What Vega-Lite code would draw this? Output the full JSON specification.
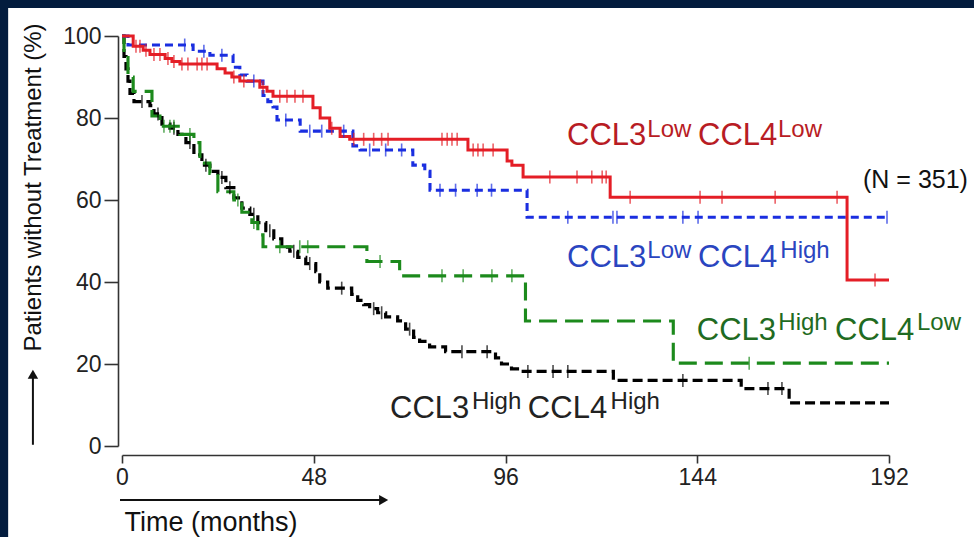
{
  "$schema": "https://vega.github.io/schema/vega-lite/v6.json",
  "width": 767,
  "height": 410,
  "autosize": {"type": "none"},
  "padding": {"left": 122, "top": 36, "right": 85, "bottom": 91},
  "background": "#031c3e",
  "config": {"view": {"stroke": null}, "font": "Liberation Sans"},
  "datasets": {
    "panel": [{"t": -28.5, "t2": 216, "s": -25, "s2": 106.8}],
    "curves": [
      {"g":"HH","t":0,"s":100},{"g":"HH","t":0.5,"s":95},{"g":"HH","t":1,"s":92},{"g":"HH","t":1.5,"s":89},{"g":"HH","t":2,"s":86},{"g":"HH","t":3,"s":84},{"g":"HH","t":7,"s":83},{"g":"HH","t":8,"s":81},{"g":"HH","t":10,"s":78.5},{"g":"HH","t":12,"s":77.5},{"g":"HH","t":14,"s":76},{"g":"HH","t":16,"s":74},{"g":"HH","t":18,"s":71},{"g":"HH","t":20,"s":68.5},{"g":"HH","t":22,"s":67},{"g":"HH","t":24,"s":65.5},{"g":"HH","t":26,"s":63},{"g":"HH","t":28,"s":60.5},{"g":"HH","t":30,"s":58},{"g":"HH","t":32,"s":56.5},{"g":"HH","t":34,"s":54.5},{"g":"HH","t":36,"s":52.5},{"g":"HH","t":38,"s":50.5},{"g":"HH","t":40,"s":48.5},{"g":"HH","t":42,"s":47.5},{"g":"HH","t":44,"s":46},{"g":"HH","t":46,"s":44.5},{"g":"HH","t":48.5,"s":42.5},{"g":"HH","t":49.5,"s":40},{"g":"HH","t":51.5,"s":38.5},{"g":"HH","t":57.5,"s":37},{"g":"HH","t":59,"s":35.5},{"g":"HH","t":60.5,"s":34.5},{"g":"HH","t":62,"s":33.5},{"g":"HH","t":64,"s":32.5},{"g":"HH","t":66,"s":31.5},{"g":"HH","t":69,"s":30.5},{"g":"HH","t":71,"s":28.5},{"g":"HH","t":73,"s":26.5},{"g":"HH","t":74.5,"s":25.5},{"g":"HH","t":77,"s":24.2},{"g":"HH","t":81,"s":23},{"g":"HH","t":93.5,"s":21.5},{"g":"HH","t":95,"s":20},{"g":"HH","t":97.5,"s":18.8},{"g":"HH","t":100,"s":18.2},{"g":"HH","t":123,"s":16},{"g":"HH","t":155,"s":14},{"g":"HH","t":167,"s":10.5},{"g":"HH","t":192,"s":10.5},
      {"g":"HL","t":0,"s":100},{"g":"HL","t":0.5,"s":96},{"g":"HL","t":1.5,"s":90},{"g":"HL","t":2.8,"s":86.5},{"g":"HL","t":7.5,"s":80.5},{"g":"HL","t":9.5,"s":78},{"g":"HL","t":14.5,"s":76},{"g":"HL","t":18,"s":74},{"g":"HL","t":19.5,"s":69},{"g":"HL","t":22,"s":66.5},{"g":"HL","t":24,"s":62},{"g":"HL","t":28,"s":60},{"g":"HL","t":30,"s":57},{"g":"HL","t":32.5,"s":54.5},{"g":"HL","t":34,"s":51.5},{"g":"HL","t":35.3,"s":48.6},{"g":"HL","t":61.3,"s":45},{"g":"HL","t":69.5,"s":41.5},{"g":"HL","t":101,"s":30.5},{"g":"HL","t":138,"s":20.2},{"g":"HL","t":192,"s":20.2},
      {"g":"LH","t":0,"s":100},{"g":"LH","t":1.5,"s":97.8},{"g":"LH","t":17.8,"s":96.3},{"g":"LH","t":22,"s":95.3},{"g":"LH","t":27.8,"s":92.4},{"g":"LH","t":29.5,"s":90.5},{"g":"LH","t":31.3,"s":89},{"g":"LH","t":35.3,"s":85.5},{"g":"LH","t":36.5,"s":84},{"g":"LH","t":37.8,"s":82.7},{"g":"LH","t":38.8,"s":79.5},{"g":"LH","t":44.6,"s":76.8},{"g":"LH","t":57.8,"s":73.2},{"g":"LH","t":59.6,"s":72.2},{"g":"LH","t":72.8,"s":68.5},{"g":"LH","t":75.8,"s":67},{"g":"LH","t":77.1,"s":62.4},{"g":"LH","t":101.4,"s":55.8},{"g":"LH","t":192,"s":55.8},
      {"g":"LL","t":0,"s":100},{"g":"LL","t":2.8,"s":97.5},{"g":"LL","t":5.3,"s":96.5},{"g":"LL","t":7,"s":95.5},{"g":"LL","t":10.8,"s":94.5},{"g":"LL","t":12.5,"s":93.8},{"g":"LL","t":14.5,"s":93.2},{"g":"LL","t":23.8,"s":92},{"g":"LL","t":25.8,"s":91},{"g":"LL","t":27.5,"s":90},{"g":"LL","t":29.5,"s":89},{"g":"LL","t":34.5,"s":87.5},{"g":"LL","t":36.3,"s":86.5},{"g":"LL","t":37.8,"s":85.3},{"g":"LL","t":47.8,"s":82.5},{"g":"LL","t":49.6,"s":80},{"g":"LL","t":52,"s":77.5},{"g":"LL","t":54.6,"s":75.5},{"g":"LL","t":57,"s":74.8},{"g":"LL","t":86.6,"s":72.2},{"g":"LL","t":96.4,"s":69.5},{"g":"LL","t":97.6,"s":68.5},{"g":"LL","t":100.4,"s":65.6},{"g":"LL","t":122.2,"s":60.7},{"g":"LL","t":181.5,"s":40.5},{"g":"LL","t":192,"s":40.5}
    ],
    "censored": [
      {"g":"HH","t":5,"s":84},{"g":"HH","t":9,"s":81},{"g":"HH","t":13,"s":77.5},{"g":"HH","t":17,"s":74},{"g":"HH","t":21,"s":68.5},{"g":"HH","t":25,"s":65.5},{"g":"HH","t":27,"s":63},{"g":"HH","t":33,"s":56.5},{"g":"HH","t":37,"s":52.5},{"g":"HH","t":43,"s":47.5},{"g":"HH","t":47,"s":44.5},{"g":"HH","t":55,"s":38.5},{"g":"HH","t":63,"s":33.5},{"g":"HH","t":65,"s":32.5},{"g":"HH","t":72,"s":28.5},{"g":"HH","t":85.1,"s":23},{"g":"HH","t":91.4,"s":23},{"g":"HH","t":101.6,"s":18.2},{"g":"HH","t":107.9,"s":18.2},{"g":"HH","t":111.6,"s":18.2},{"g":"HH","t":140.4,"s":16},{"g":"HH","t":161.7,"s":14},{"g":"HH","t":165.2,"s":14},
      {"g":"HL","t":10.5,"s":78},{"g":"HL","t":12,"s":78},{"g":"HL","t":13,"s":78},{"g":"HL","t":17,"s":76},{"g":"HL","t":29,"s":60},{"g":"HL","t":33,"s":54.5},{"g":"HL","t":39.5,"s":48.6},{"g":"HL","t":44.5,"s":48.6},{"g":"HL","t":46.5,"s":48.6},{"g":"HL","t":64.6,"s":45},{"g":"HL","t":80.1,"s":41.5},{"g":"HL","t":85.4,"s":41.5},{"g":"HL","t":92.6,"s":41.5},{"g":"HL","t":97.6,"s":41.5},{"g":"HL","t":157,"s":20.2},
      {"g":"LH","t":15.7,"s":97.8},{"g":"LH","t":20.5,"s":96.3},{"g":"LH","t":25,"s":95.3},{"g":"LH","t":33,"s":89},{"g":"LH","t":41,"s":79.5},{"g":"LH","t":47,"s":76.8},{"g":"LH","t":50,"s":76.8},{"g":"LH","t":55.5,"s":76.8},{"g":"LH","t":62,"s":72.2},{"g":"LH","t":66,"s":72.2},{"g":"LH","t":70,"s":72.2},{"g":"LH","t":79.6,"s":62.4},{"g":"LH","t":83.5,"s":62.4},{"g":"LH","t":88.9,"s":62.4},{"g":"LH","t":92.5,"s":62.4},{"g":"LH","t":111.6,"s":55.8},{"g":"LH","t":122.9,"s":55.8},{"g":"LH","t":123.9,"s":55.8},{"g":"LH","t":140.4,"s":55.8},{"g":"LH","t":144.2,"s":55.8},{"g":"LH","t":191.5,"s":55.8},
      {"g":"LL","t":3.5,"s":97.5},{"g":"LL","t":4.5,"s":97.5},{"g":"LL","t":6,"s":96.5},{"g":"LL","t":8,"s":95.5},{"g":"LL","t":9.5,"s":95.5},{"g":"LL","t":11.5,"s":94.5},{"g":"LL","t":13,"s":93.8},{"g":"LL","t":15,"s":93.2},{"g":"LL","t":16.5,"s":93.2},{"g":"LL","t":18.8,"s":93.2},{"g":"LL","t":20,"s":93.2},{"g":"LL","t":21.3,"s":93.2},{"g":"LL","t":28,"s":90},{"g":"LL","t":30.5,"s":89},{"g":"LL","t":35.3,"s":87.5},{"g":"LL","t":39.5,"s":85.3},{"g":"LL","t":41.3,"s":85.3},{"g":"LL","t":43.3,"s":85.3},{"g":"LL","t":45.3,"s":85.3},{"g":"LL","t":52.5,"s":77.5},{"g":"LL","t":58,"s":74.8},{"g":"LL","t":60.5,"s":74.8},{"g":"LL","t":63,"s":74.8},{"g":"LL","t":65,"s":74.8},{"g":"LL","t":66.6,"s":74.8},{"g":"LL","t":80.1,"s":74.8},{"g":"LL","t":81.4,"s":74.8},{"g":"LL","t":82.6,"s":74.8},{"g":"LL","t":83.9,"s":74.8},{"g":"LL","t":87.9,"s":72.2},{"g":"LL","t":89.1,"s":72.2},{"g":"LL","t":90.4,"s":72.2},{"g":"LL","t":92.9,"s":72.2},{"g":"LL","t":107.1,"s":65.6},{"g":"LL","t":113.9,"s":65.6},{"g":"LL","t":117.6,"s":65.6},{"g":"LL","t":120.2,"s":65.6},{"g":"LL","t":121.2,"s":65.6},{"g":"LL","t":127.2,"s":60.7},{"g":"LL","t":144.7,"s":60.7},{"g":"LL","t":150.2,"s":60.7},{"g":"LL","t":163.5,"s":60.7},{"g":"LL","t":179,"s":60.7},{"g":"LL","t":188.5,"s":40.5}
    ],
    "labels": [
      {"g":"LL","k":"base","label":"CCL3","t":111.4,"s":73.4},{"g":"LL","k":"sup","label":"Low","t":131.5,"s":75.4},{"g":"LL","k":"base","label":"CCL4","t":144.2,"s":73.4},{"g":"LL","k":"sup","label":"Low","t":164.2,"s":75.4},
      {"g":"LH","k":"base","label":"CCL3","t":111.4,"s":43.7},{"g":"LH","k":"sup","label":"Low","t":131.5,"s":45.9},{"g":"LH","k":"base","label":"CCL4","t":144.2,"s":43.7},{"g":"LH","k":"sup","label":"High","t":164.8,"s":45.9},
      {"g":"HL","k":"base","label":"CCL3","t":143.9,"s":25.9},{"g":"HL","k":"sup","label":"High","t":164.3,"s":28.2},{"g":"HL","k":"base","label":"CCL4","t":178.5,"s":25.9},{"g":"HL","k":"sup","label":"Low","t":199,"s":28.2},
      {"g":"HH","k":"base","label":"CCL3","t":67.1,"s":6.8},{"g":"HH","k":"sup","label":"High","t":87.6,"s":9.1},{"g":"HH","k":"base","label":"CCL4","t":101.6,"s":6.8},{"g":"HH","k":"sup","label":"High","t":122.3,"s":9.1}
    ],
    "note": [{"label":"(N = 351)","t":185.5,"s":62.9}],
    "arrowLines": [{"t":-0.5,"t2":66,"s":-13.2,"s2":-13.2},{"t":-22.3,"t2":-22.3,"s":0.3,"s2":17}],
    "arrowHeads": [{"t":65.5,"s":-13.2,"dir":"right"},{"t":-22.3,"s":17.5,"dir":"up"}]
  },
  "layer": [
    {
      "data": {"name": "panel"},
      "mark": {"type": "rect", "color": "#ffffff", "clip": false},
      "encoding": {
        "x": {"field": "t", "type": "quantitative", "scale": {"domain": [0, 192], "nice": false, "zero": false}},
        "x2": {"field": "t2"},
        "y": {"field": "s", "type": "quantitative", "scale": {"domain": [0, 100], "nice": false}},
        "y2": {"field": "s2"}
      }
    },
    {
      "data": {"name": "curves"},
      "mark": {"type": "line", "interpolate": "step-after"},
      "encoding": {
        "x": {"field": "t", "type": "quantitative",
          "axis": {"values": [0, 48, 96, 144, 192], "offset": 9, "tickSize": 8, "labelFontSize": 23, "labelPadding": 3, "labelFlush": false, "labelOverlap": false, "labelColor": "#222222", "domainColor": "#333333", "tickColor": "#333333", "domainWidth": 1.6, "tickWidth": 1.6, "grid": false, "zindex": 1,
            "title": "Time (months)", "titleFontSize": 27, "titleFontWeight": "normal", "titleColor": "#111111", "titleAnchor": "start", "titleAlign": "left", "titleBaseline": "alphabetic", "titleX": 2, "titleY": 75}},
        "y": {"field": "s", "type": "quantitative",
          "axis": {"values": [0, 20, 40, 60, 80, 100], "offset": 4, "tickSize": 14, "labelFontSize": 23, "labelPadding": 3, "labelFlush": false, "labelOverlap": false, "labelColor": "#222222", "domainColor": "#333333", "tickColor": "#333333", "domainWidth": 1.6, "tickWidth": 1.6, "grid": false, "zindex": 1,
            "title": "Patients without Treatment (%)", "titleFontSize": 24, "titleFontWeight": "normal", "titleColor": "#111111", "titleAngle": -90, "titleAlign": "center", "titleBaseline": "middle", "titleX": -85, "titleY": 151}},
        "color": {"field": "g", "type": "nominal", "scale": {"domain": ["HH", "HL", "LH", "LL"], "range": ["#000000", "#1c8a1c", "#1a2ee0", "#e41e26"]}, "legend": null},
        "strokeDash": {"field": "g", "type": "nominal", "scale": {"domain": ["HH", "HL", "LH", "LL"], "range": [[10, 5], [18, 8], [8, 5], [1, 0]]}, "legend": null},
        "strokeWidth": {"field": "g", "type": "nominal", "scale": {"domain": ["HH", "HL", "LH", "LL"], "range": [3.2, 3, 3, 1.4]}, "legend": null}
      }
    },
    {
      "data": {"name": "censored"},
      "mark": {"type": "tick", "orient": "vertical", "size": 13, "thickness": 1.6},
      "encoding": {
        "x": {"field": "t", "type": "quantitative"},
        "y": {"field": "s", "type": "quantitative"},
        "color": {"field": "g", "type": "nominal", "scale": {"domain": ["HH", "HL", "LH", "LL"], "range": ["#000000", "#1c8a1c", "#1a2ee0", "#e41e26"]}, "legend": null}
      }
    },
    {
      "data": {"name": "labels"},
      "transform": [{"filter": "datum.k === 'base'"}],
      "mark": {"type": "text", "align": "left", "baseline": "alphabetic", "fontSize": 31},
      "encoding": {
        "x": {"field": "t", "type": "quantitative"},
        "y": {"field": "s", "type": "quantitative"},
        "text": {"field": "label"},
        "color": {"field": "g", "type": "nominal", "scale": {"domain": ["HH", "HL", "LH", "LL"], "range": ["#222222", "#1f6b22", "#2a45c0", "#b81c24"]}, "legend": null}
      }
    },
    {
      "data": {"name": "labels"},
      "transform": [{"filter": "datum.k === 'sup'"}],
      "mark": {"type": "text", "align": "left", "baseline": "alphabetic", "fontSize": 24},
      "encoding": {
        "x": {"field": "t", "type": "quantitative"},
        "y": {"field": "s", "type": "quantitative"},
        "text": {"field": "label"},
        "color": {"field": "g", "type": "nominal", "scale": {"domain": ["HH", "HL", "LH", "LL"], "range": ["#222222", "#1f6b22", "#2a45c0", "#b81c24"]}, "legend": null}
      }
    },
    {
      "data": {"name": "note"},
      "mark": {"type": "text", "align": "left", "baseline": "alphabetic", "fontSize": 25, "color": "#111111"},
      "encoding": {
        "x": {"field": "t", "type": "quantitative"},
        "y": {"field": "s", "type": "quantitative"},
        "text": {"field": "label"}
      }
    },
    {
      "data": {"name": "arrowLines"},
      "mark": {"type": "rule", "color": "#111111", "strokeWidth": 2},
      "encoding": {
        "x": {"field": "t", "type": "quantitative"},
        "x2": {"field": "t2"},
        "y": {"field": "s", "type": "quantitative"},
        "y2": {"field": "s2"}
      }
    },
    {
      "data": {"name": "arrowHeads"},
      "mark": {"type": "point", "filled": true, "opacity": 1, "color": "#111111", "size": 110},
      "encoding": {
        "x": {"field": "t", "type": "quantitative"},
        "y": {"field": "s", "type": "quantitative"},
        "shape": {"field": "dir", "type": "nominal", "scale": {"domain": ["right", "up"], "range": ["triangle-right", "triangle-up"]}, "legend": null}
      }
    }
  ],
  "resolve": {"scale": {"color": "independent"}}
}
